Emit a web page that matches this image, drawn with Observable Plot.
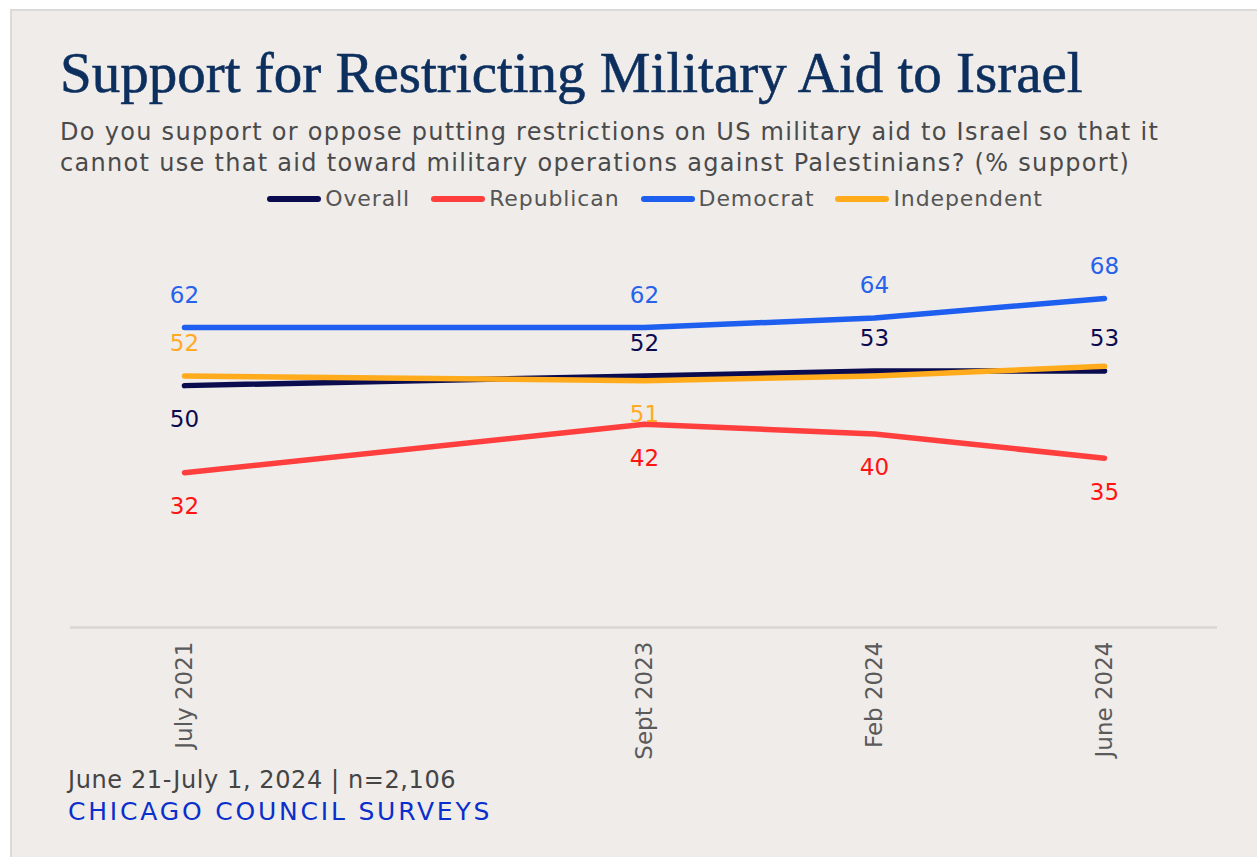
<!DOCTYPE html>
<html><head><meta charset="utf-8">
<script src="https://cdn.jsdelivr.net/npm/d3@7"></script>
<script src="https://cdn.jsdelivr.net/npm/@observablehq/plot@0.6"></script>
<style>
html,body{margin:0;padding:0;}
body{background:#fff;width:1257px;height:857px;overflow:hidden;position:relative;font-family:"DejaVu Sans",sans-serif;}
#card{position:absolute;left:10px;top:9px;width:1247px;height:848px;background:#efecea;border-left:2px solid #dcdad8;border-top:2px solid #dcdad8;}
#title{position:absolute;left:60px;top:38px;font-family:"Liberation Serif",serif;font-size:57px;color:#0d2f5e;white-space:nowrap;line-height:70px;-webkit-text-stroke:0.6px #0d2f5e;}
#subtitle{position:absolute;left:60px;top:117px;font-size:24px;line-height:31px;color:#4a4a4a;white-space:nowrap;letter-spacing:1.3px;}
#legend{position:absolute;left:0;width:1310px;top:186px;display:flex;justify-content:center;gap:21px;font-size:22px;color:#555;letter-spacing:0.9px;}
.item{display:flex;align-items:center;}
.sw{width:54px;height:6px;border-radius:3px;margin-right:4px;}
#chart{position:absolute;left:0;top:220px;}
#note{position:absolute;left:68px;top:764px;font-size:24px;color:#444;line-height:32px;letter-spacing:0.6px;white-space:nowrap;}
#src{color:#0a2fcc;letter-spacing:2.8px;font-size:25px;}
</style></head>
<body>
<div id="card"></div>
<div id="title">Support for Restricting Military Aid to Israel</div>
<div id="subtitle">Do you support or oppose putting restrictions on US military aid to Israel so that it<br>cannot use that aid toward military operations against Palestinians? (% support)</div>
<div id="legend"></div>
<div id="chart"></div>
<div id="note">June 21-July 1, 2024 | n=2,106<br><span id="src">CHICAGO COUNCIL SURVEYS</span></div>
<script>
const periods = ["July 2021", "Sept 2023", "Feb 2024", "June 2024"];
const seriesNames = ["Overall", "Republican", "Democrat", "Independent"];
const overall = [50, 52, 53, 53];
const republican = [32, 42, 40, 35];
const democrat = [62, 62, 64, 68];
const independent = [52, 51, 52, 54];

const lineColors = ["#0b0b50", "#ff3e3e", "#1e5ff0", "#ffab1c"];
const labelColors = ["#0b0b50", "#ff1414", "#2662ea", "#ffaa22"];
// label side per point: -1 above, 1 below, 0 hidden
const labelSide = [[1,-1,-1,-1],[1,1,1,1],[-1,-1,-1,-1],[-1,1,0,0]];

const values = [overall, republican, democrat, independent];
const rows = [];
seriesNames.forEach((s, i) => periods.forEach((p, j) => rows.push({series: s, period: p, value: values[i][j], side: labelSide[i][j]})));

// leave an empty slot between the first two survey dates (longer time gap)
const xDomain = [periods[0], "\u2009", ...periods.slice(1)];

// legend
const leg = document.getElementById("legend");
seriesNames.forEach((s, i) => {
  const it = document.createElement("div"); it.className = "item";
  const sw = document.createElement("div"); sw.className = "sw"; sw.style.background = lineColors[i];
  const tx = document.createElement("span"); tx.textContent = s;
  it.appendChild(sw); it.appendChild(tx); leg.appendChild(it);
});

const labelMarks = [];
seriesNames.forEach((s, i) => {
  labelMarks.push(Plot.text(rows.filter(d => d.series === s && d.side < 0), {x: "period", y: "value", text: d => String(d.value), fill: labelColors[i], dy: -32, fontSize: 23}));
  labelMarks.push(Plot.text(rows.filter(d => d.series === s && d.side > 0), {x: "period", y: "value", text: d => String(d.value), fill: labelColors[i], dy: 34, fontSize: 23}));
});

const chart = Plot.plot({
  width: 1257, height: 560,
  marginLeft: 70, marginRight: 40, marginTop: 20, marginBottom: 153,
  style: {background: "transparent", fontFamily: "DejaVu Sans, sans-serif", overflow: "visible"},
  x: {type: "point", domain: xDomain, padding: 0.493, label: null},
  y: {domain: [0, 80], axis: null},
  color: {domain: seriesNames, range: lineColors},
  marks: [
    Plot.ruleY([0], {stroke: "#d9d6d3", strokeWidth: 2.5}),
    Plot.axisX({ticks: periods, tickSize: 0, tickRotate: -90, tickPadding: 14, fontSize: 23, fill: "#5a5a5a", label: null}),
    Plot.line(rows, {x: "period", y: "value", z: "series", stroke: "series", strokeWidth: 5.5, curve: "linear", strokeLinecap: "round", strokeLinejoin: "round"}),
    ...labelMarks
  ]
});
document.getElementById("chart").appendChild(chart);
</script>
</body></html>
